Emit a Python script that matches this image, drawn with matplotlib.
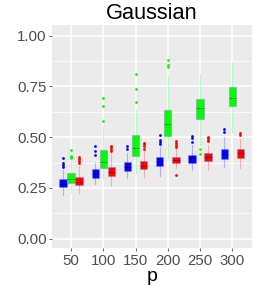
import numpy as np
import matplotlib.pyplot as plt

# =========================================================
# Data
# =========================================================
p_values = [50, 100, 150, 200, 250, 300]

# blue series
blue_q1 = [0.253, 0.300, 0.335, 0.358, 0.374, 0.393]
blue_med = [0.270, 0.320, 0.355, 0.380, 0.395, 0.415]
blue_q3 = [0.293, 0.343, 0.376, 0.401, 0.414, 0.440]
blue_lo = [0.215, 0.268, 0.297, 0.309, 0.338, 0.352]
blue_hi = [0.338, 0.375, 0.420, 0.450, 0.460, 0.500]
blue_out = [[0.396, 0.374, 0.363, 0.355],
            [0.457, 0.432, 0.410],
            [0.457, 0.443],
            [0.511, 0.486, 0.475, 0.465],
            [0.506, 0.494, 0.475],
            [0.539, 0.527]]

# green series
green_q1 = [0.273, 0.350, 0.409, 0.506, 0.590, 0.655]
green_med = [0.295, 0.376, 0.448, 0.565, 0.642, 0.695]
green_q3 = [0.322, 0.437, 0.511, 0.634, 0.687, 0.749]
green_lo = [0.227, 0.294, 0.325, 0.396, 0.460, 0.527]
green_hi = [0.388, 0.555, 0.634, 0.800, 0.811, 0.869]
green_out = [[0.437, 0.407, 0.400, 0.396],
             [0.692, 0.654, 0.580],
             [0.810, 0.737, 0.675],
             [0.880, 0.856, 0.844],
             [0.442, 0.417],
             []]

# red series
red_q1 = [0.265, 0.310, 0.343, 0.371, 0.383, 0.396]
red_med = [0.280, 0.330, 0.360, 0.385, 0.400, 0.420]
red_q3 = [0.305, 0.355, 0.384, 0.404, 0.424, 0.443]
red_lo = [0.227, 0.261, 0.302, 0.347, 0.338, 0.347]
red_hi = [0.358, 0.420, 0.430, 0.440, 0.460, 0.490]
red_out = [[0.404, 0.393, 0.383, 0.371],
           [0.458, 0.450, 0.440, 0.433],
           [0.473, 0.465, 0.455, 0.440],
           [0.483, 0.470, 0.460, 0.453, 0.314],
           [0.502, 0.495, 0.485, 0.481],
           [0.519, 0.510]]

series = [
    ("#0000FF", -12.5, blue_q1, blue_med, blue_q3, blue_lo, blue_hi, blue_out),
    ("#00FF00", 0.0, green_q1, green_med, green_q3, green_lo, green_hi, green_out),
    ("#FF0000", 12.5, red_q1, red_med, red_q3, red_lo, red_hi, red_out),
]

# =========================================================
# Figure
# =========================================================
plt.rcParams['font.family'] = ['Liberation Sans', 'DejaVu Sans']

fig = plt.figure(figsize=(2.54, 2.86), dpi=100)
ax = fig.add_axes([0.205, 0.133, 0.787, 0.78])
ax.set_facecolor("#EBEBEB")
for s in ax.spines.values():
    s.set_visible(False)

# grid
for y in [0.125, 0.375, 0.625, 0.875]:
    ax.axhline(y, color="white", lw=0.55, zorder=0)
for y in [0.0, 0.25, 0.5, 0.75, 1.0]:
    ax.axhline(y, color="white", lw=1.1, zorder=0)
for x in p_values:
    ax.axvline(x, color="white", lw=1.1, zorder=0)

for color, off, q1, med, q3, lo, hi, out in series:
    stats = []
    for i in range(len(p_values)):
        stats.append(dict(q1=q1[i], med=med[i], q3=q3[i],
                          whislo=lo[i], whishi=hi[i], fliers=out[i]))
    pos = [p + off for p in p_values]
    ax.bxp(stats, positions=pos, widths=11.5, patch_artist=True,
           showcaps=False, manage_ticks=False,
           boxprops=dict(facecolor=color, edgecolor=(0.55, 0.55, 0.75, 0.5), lw=0.8),
           medianprops=dict(color=(0, 0, 0, 0.35), lw=0.7),
           whiskerprops=dict(color=color, alpha=0.25, lw=0.8),
           flierprops=dict(marker="o", markersize=2, markerfacecolor=color,
                           markeredgecolor=color, markeredgewidth=0))

ax.set_xlim(20.6, 330.5)
ax.set_ylim(-0.046, 1.053)
ax.set_xticks(p_values)
ax.set_yticks([0.0, 0.25, 0.5, 0.75, 1.0])
ax.set_yticklabels(["0.00", "0.25", "0.50", "0.75", "1.00"])
ax.tick_params(colors="#4D4D4D", labelsize=10.8, length=2.5, width=0.6, pad=1.5)
ax.set_xlabel("p", fontsize=14, labelpad=0)
ax.set_title("Gaussian", fontsize=15.7, pad=4)

plt.savefig("out.png", dpi=100)
plt.close()
